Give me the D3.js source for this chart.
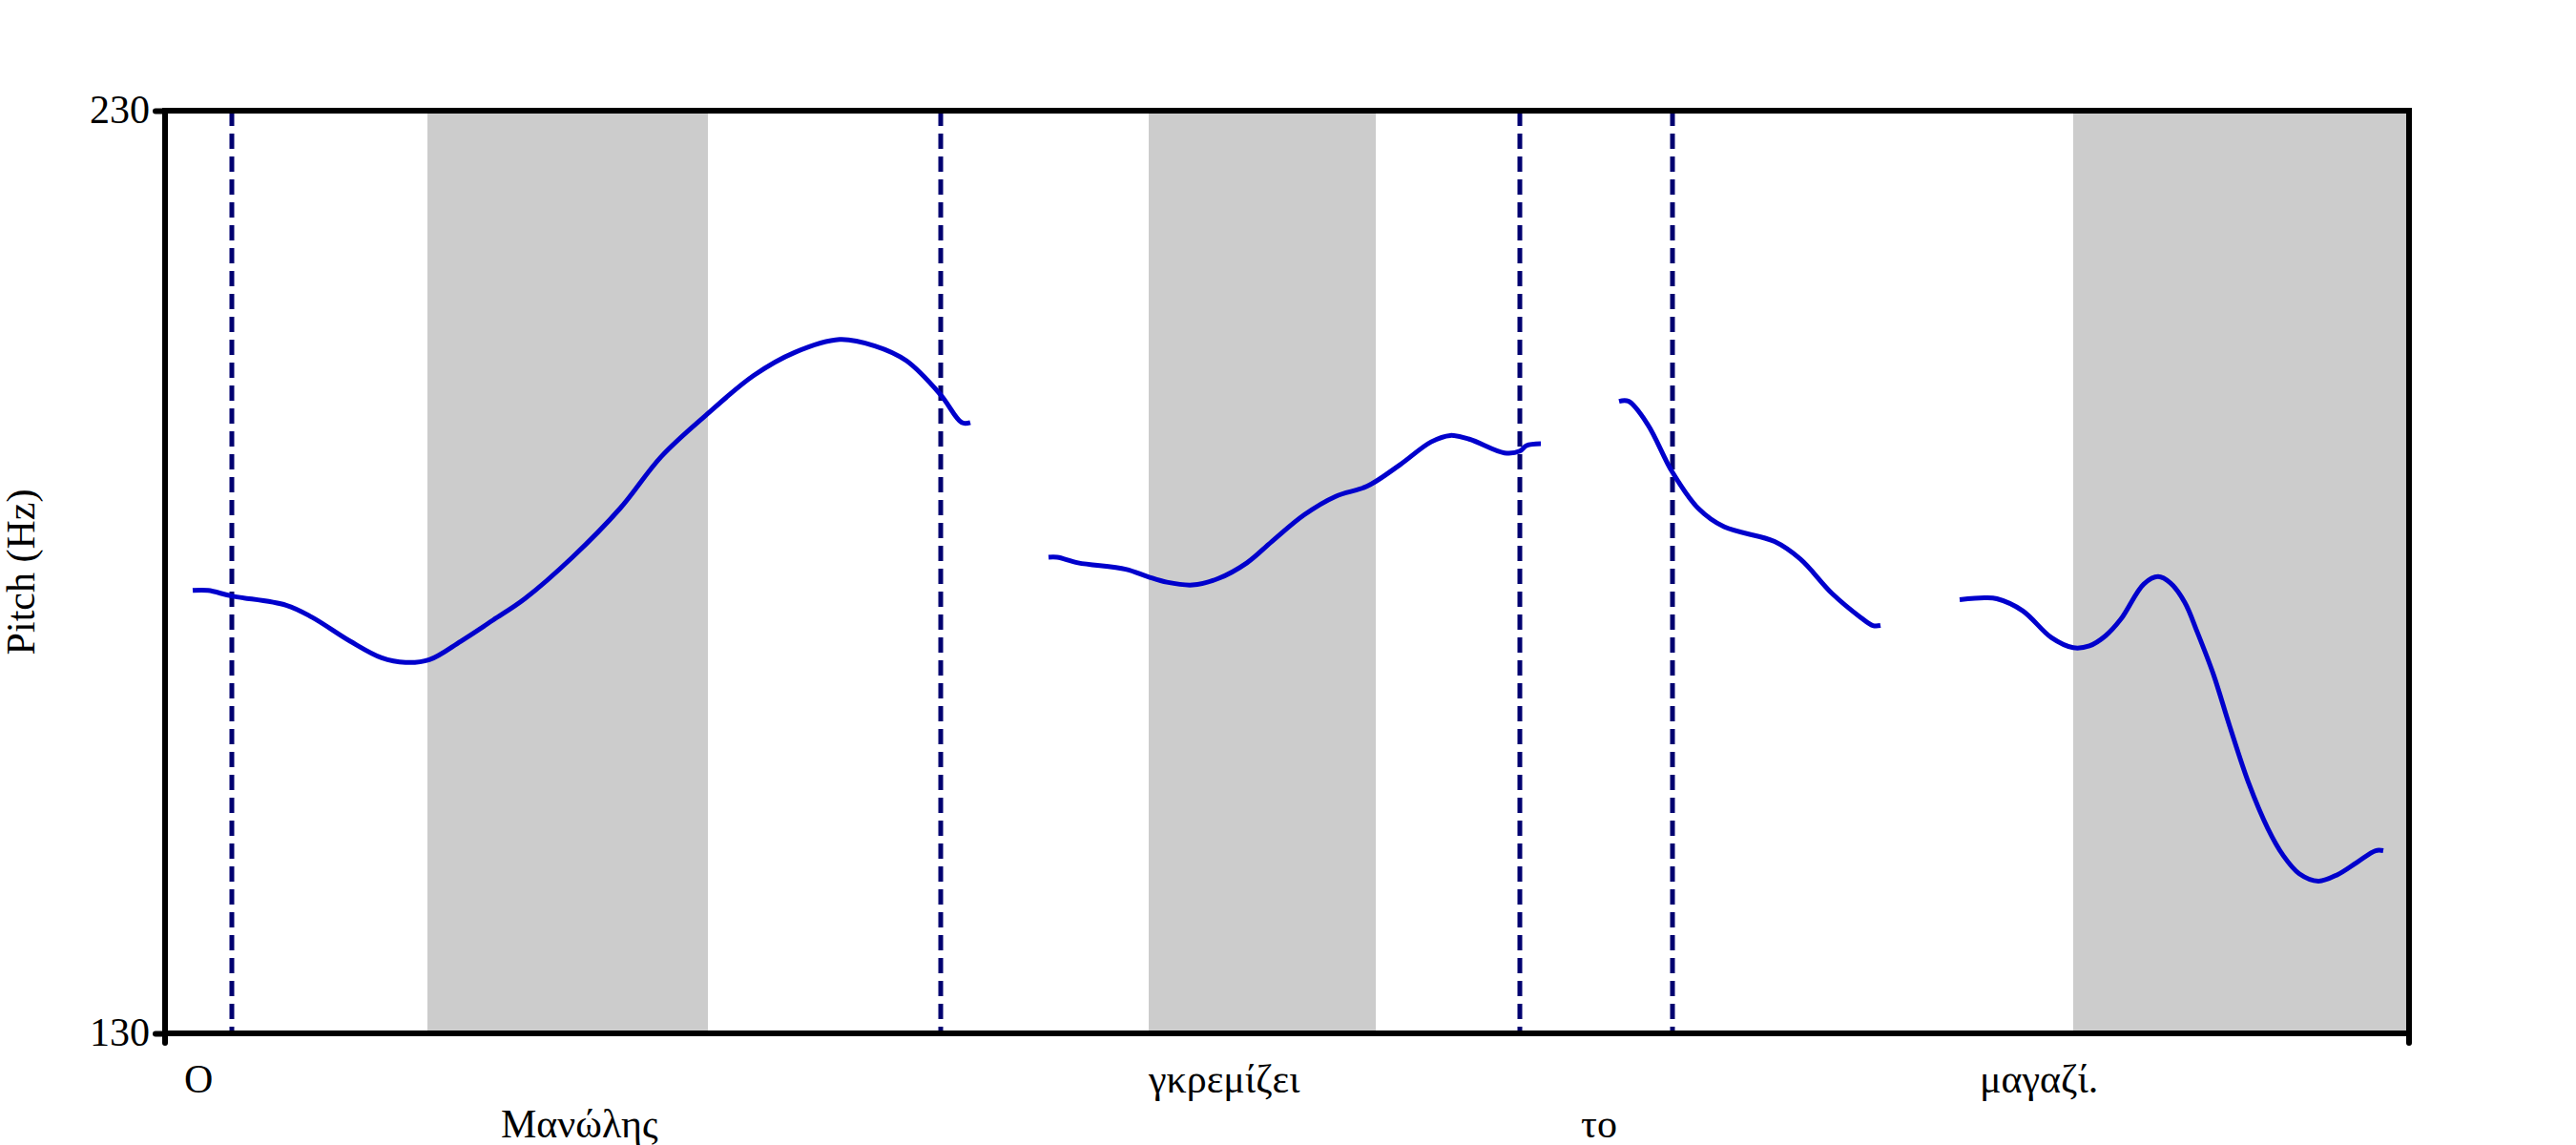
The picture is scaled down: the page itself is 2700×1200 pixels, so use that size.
<!DOCTYPE html>
<html>
<head>
<meta charset="utf-8">
<script src="https://cdn.jsdelivr.net/npm/d3@7"></script>
<style>
  html, body { margin: 0; padding: 0; background: #ffffff; }
  svg { display: block; }
  text { font-family: "Liberation Serif", "Times New Roman", serif; fill: #000; }
</style>
</head>
<body>
<svg id="chart" width="2700" height="1200"></svg>
<script>
// ---------- data ----------
const timeDomain = [0, 2.352];          // seconds
const pitchDomain = [130, 230];         // Hz
const yTickValues = [130, 230];
const yAxisTitle = "Pitch (Hz)";

// word boundaries (dashed lines), seconds
const boundaryTimes = [0.070, 0.813, 1.420, 1.580];

// shaded (stressed) intervals, seconds
const bandStarts = [0.275, 1.031, 2.000];
const bandEnds   = [0.569, 1.269, 2.352];

// word labels
const words     = ["Ο", "Μανώλης", "γκρεμίζει", "το", "μαγαζί."];
const wordTimes = [0.020, 0.352, 1.031, 1.484, 1.902];
const wordRows  = [0, 1, 0, 1, 0];

// pitch contour segments: [time (s), pitch (Hz)]
const segment1 = [
  [0.029, 178.0], [0.045, 178.0], [0.070, 177.4], [0.127, 176.4], [0.154, 175.1],
  [0.194, 172.5], [0.227, 170.7], [0.252, 170.2], [0.277, 170.5], [0.310, 172.5],
  [0.344, 174.8], [0.377, 177.1], [0.427, 181.6], [0.477, 186.9], [0.520, 192.5],
  [0.567, 197.0], [0.617, 201.3], [0.660, 203.8], [0.707, 205.2], [0.744, 204.5],
  [0.777, 202.9], [0.813, 199.2], [0.835, 196.2], [0.844, 196.2]
];
const segment2 = [
  [0.926, 181.6], [0.935, 181.6], [0.957, 181.0], [1.007, 180.3], [1.030, 179.5],
  [1.050, 178.9], [1.077, 178.6], [1.104, 179.3], [1.134, 181.0], [1.160, 183.3],
  [1.194, 186.2], [1.227, 188.2], [1.260, 189.3], [1.294, 191.6], [1.327, 194.1],
  [1.347, 194.8], [1.367, 194.4], [1.404, 192.9], [1.420, 193.1], [1.427, 193.7],
  [1.442, 193.9]
];
const segment3 = [
  [1.524, 198.5], [1.534, 198.5], [1.554, 196.0], [1.580, 190.8], [1.607, 186.9],
  [1.634, 184.9], [1.687, 183.3], [1.714, 181.4], [1.747, 177.7], [1.777, 175.1],
  [1.790, 174.2], [1.798, 174.2]
];
const segment4 = [
  [1.881, 177.0], [1.907, 177.2], [1.920, 177.1], [1.947, 175.8], [1.977, 172.9],
  [2.000, 171.8], [2.017, 172.0], [2.034, 173.1], [2.050, 174.9], [2.074, 178.7],
  [2.089, 179.5], [2.102, 178.8], [2.117, 176.7], [2.130, 173.5], [2.147, 168.9],
  [2.164, 163.3], [2.184, 157.1], [2.204, 152.2], [2.220, 149.3], [2.237, 147.3],
  [2.257, 146.5], [2.277, 147.2], [2.297, 148.5], [2.317, 149.8], [2.325, 149.8]
];
const segments = [segment1, segment2, segment3, segment4];

// ---------- layout ----------
const plotLeft = 173, plotRight = 2525, plotTop = 116, plotBottom = 1083;
const fontSize = 42;

const svg = d3.select("#chart");
svg.append("rect").attr("x", 0).attr("y", 0).attr("width", 2700).attr("height", 1200).attr("fill", "#ffffff");

const x = d3.scaleLinear().domain(timeDomain).range([plotLeft, plotRight]);
const y = d3.scaleLinear().domain(pitchDomain).range([plotBottom, plotTop]);

// shaded bands
svg.append("g").selectAll("rect")
  .data(d3.zip(bandStarts, bandEnds))
  .join("rect")
  .attr("x", d => x(d[0]))
  .attr("y", y(pitchDomain[1]))
  .attr("width", d => x(d[1]) - x(d[0]))
  .attr("height", y(pitchDomain[0]) - y(pitchDomain[1]))
  .attr("fill", "#cccccc");

// dashed boundaries
svg.append("g").selectAll("line")
  .data(boundaryTimes)
  .join("line")
  .attr("x1", d => x(d)).attr("x2", d => x(d))
  .attr("y1", y(pitchDomain[1])).attr("y2", y(pitchDomain[0]))
  .attr("stroke", "#000070")
  .attr("stroke-width", 5)
  .attr("stroke-dasharray", "16,8");

// pitch contour
const line = d3.line()
  .x(d => x(d[0]))
  .y(d => y(d[1]))
  .curve(d3.curveCatmullRom.alpha(0.5));

svg.append("g").selectAll("path")
  .data(segments)
  .join("path")
  .attr("d", line)
  .attr("fill", "none")
  .attr("stroke", "#0000cc")
  .attr("stroke-width", 5)
  .attr("stroke-linejoin", "round");

// frame
svg.append("rect")
  .attr("x", plotLeft).attr("y", plotTop)
  .attr("width", plotRight - plotLeft).attr("height", plotBottom - plotTop)
  .attr("fill", "none").attr("stroke", "#000").attr("stroke-width", 6);

// y axis ticks and labels
const yAxis = d3.axisLeft(y).tickValues(yTickValues).tickSize(10).tickPadding(6)
  .tickFormat(d3.format("d"));
const gy = svg.append("g").attr("transform", `translate(${plotLeft},0)`).call(yAxis);
gy.select(".domain").remove();
gy.selectAll(".tick line").attr("stroke", "#000").attr("stroke-width", 6).attr("stroke-linecap", "round");
gy.selectAll(".tick text")
  .attr("font-family", "'Liberation Serif', 'Times New Roman', serif")
  .attr("font-size", fontSize)
  .attr("fill", "#000")
  .attr("dy", "0.3em");

// bottom ticks at the plot edges
svg.append("g").selectAll("line")
  .data(timeDomain)
  .join("line")
  .attr("x1", d => x(d)).attr("x2", d => x(d))
  .attr("y1", plotBottom).attr("y2", plotBottom + 10)
  .attr("stroke", "#000").attr("stroke-width", 6).attr("stroke-linecap", "round");

// y axis title
svg.append("text")
  .attr("transform", `translate(36, ${(plotTop + plotBottom) / 2}) rotate(-90)`)
  .attr("text-anchor", "middle")
  .attr("font-size", fontSize)
  .text(yAxisTitle);

// word labels
const rowBaselines = [1145, 1192];
svg.append("g").selectAll("text")
  .data(words.map((w, i) => ({ w, t: wordTimes[i], r: wordRows[i] })))
  .join("text")
  .attr("x", d => x(d.t))
  .attr("y", d => rowBaselines[d.r])
  .attr("font-size", fontSize)
  .text(d => d.w);
</script>
</body>
</html>
